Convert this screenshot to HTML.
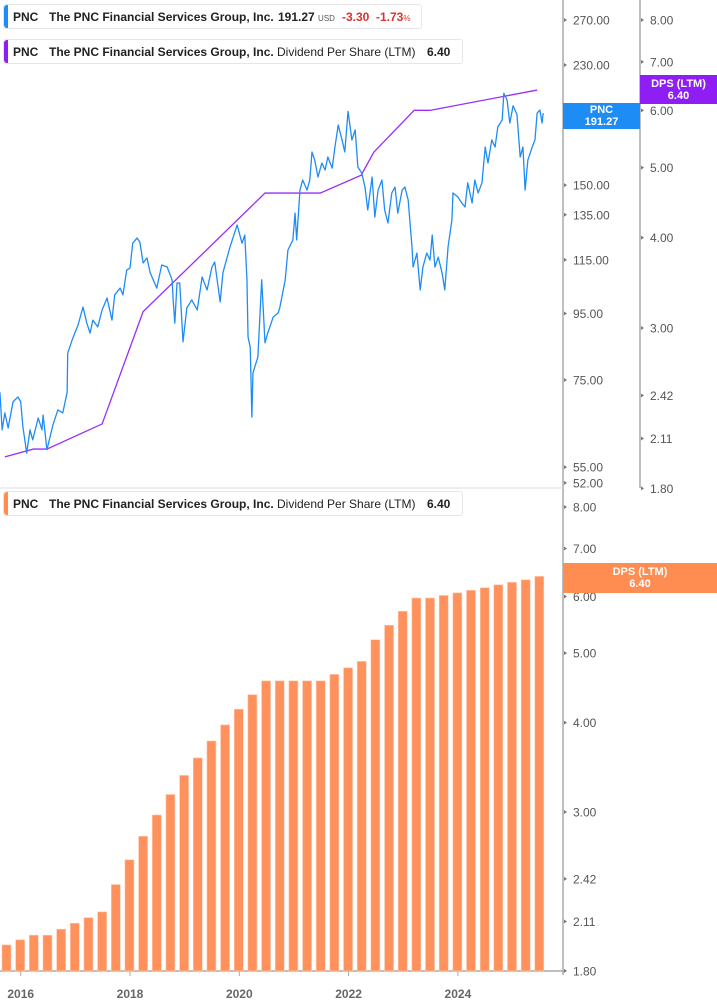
<!DOCTYPE html>
<html><head><meta charset="utf-8"><style>
body{margin:0;background:#fff;font-family:"Liberation Sans",sans-serif;}
#wrap{position:relative;width:717px;height:1005px;overflow:hidden;}
.legend{position:absolute;left:3px;height:25px;background:#fff;border:1px solid #e6e6e6;border-radius:3px;font-size:12px;color:#222;white-space:nowrap;line-height:25px;box-sizing:border-box;}
.legend .bar{position:absolute;left:0;top:0;width:4px;height:100%;border-radius:3px 0 0 3px;}
.legend span{position:absolute;top:0;}
b{font-weight:bold;}
.tag{position:absolute;color:#fff;font-weight:bold;font-size:11px;text-align:center;line-height:12px;}
</style></head><body>
<div id="wrap">
<svg id="svg" width="717" height="1005" style="position:absolute;left:0;top:0"></svg>

<div class="legend" style="top:4px;width:419px">
 <div class="bar" style="background:#1e8cf5"></div>
 <span style="left:9px"><b>PNC</b></span>
 <span style="left:45px"><b>The PNC Financial Services Group, Inc.</b></span>
 <span style="left:274px"><b>191.27</b> <span style="position:static;font-size:8px;color:#555">USD</span></span>
 <span style="left:338px;color:#d9322f"><b>-3.30</b></span>
 <span style="left:372px;color:#d9322f"><b>-1.73</b><span style="position:static;font-size:8px">%</span></span>
</div>
<div class="legend" style="top:39px;width:460px">
 <div class="bar" style="background:#8f1ef5"></div>
 <span style="left:9px"><b>PNC</b></span>
 <span style="left:45px"><b>The PNC Financial Services Group, Inc.</b></span>
 <span style="left:273px">Dividend Per Share (LTM)</span>
 <span style="left:423px"><b>6.40</b></span>
</div>
<div class="legend" style="top:491px;width:460px">
 <div class="bar" style="background:#ff8c50"></div>
 <span style="left:9px"><b>PNC</b></span>
 <span style="left:45px"><b>The PNC Financial Services Group, Inc.</b></span>
 <span style="left:273px">Dividend Per Share (LTM)</span>
 <span style="left:423px"><b>6.40</b></span>
</div>

<div class="tag" style="left:563px;top:103px;width:77px;height:25px;padding-top:1px;background:#1e8cf5">PNC<br>191.27</div>
<div class="tag" style="left:640px;top:75px;width:77px;height:29px;padding-top:3px;box-sizing:border-box;background:#8f1ef5">DPS (LTM)<br>6.40</div>
<div class="tag" style="left:563px;top:563px;width:154px;height:30px;padding-top:3px;box-sizing:border-box;background:#ff8c50">DPS (LTM)<br>6.40</div>
</div>
<script>
const priceDates=[2015.62,2015.66,2015.71,2015.77,2015.86,2015.95,2016.00,2016.04,2016.11,2016.17,2016.22,2016.32,2016.39,2016.41,2016.48,2016.59,2016.68,2016.77,2016.85,2016.86,2016.94,2016.99,2017.05,2017.14,2017.21,2017.27,2017.32,2017.41,2017.49,2017.58,2017.67,2017.72,2017.82,2017.87,2017.94,2018.00,2018.05,2018.13,2018.18,2018.24,2018.31,2018.37,2018.49,2018.58,2018.68,2018.77,2018.79,2018.82,2018.86,2018.91,2018.97,2019.04,2019.13,2019.23,2019.32,2019.41,2019.50,2019.55,2019.65,2019.70,2019.83,2019.96,2020.05,2020.10,2020.14,2020.16,2020.20,2020.23,2020.25,2020.34,2020.41,2020.47,2020.52,2020.62,2020.71,2020.74,2020.84,2020.89,2020.98,2021.02,2021.05,2021.11,2021.16,2021.24,2021.29,2021.33,2021.38,2021.44,2021.51,2021.57,2021.62,2021.70,2021.75,2021.81,2021.88,2021.93,2021.99,2022.06,2022.12,2022.17,2022.24,2022.30,2022.35,2022.43,2022.48,2022.54,2022.61,2022.66,2022.72,2022.79,2022.85,2022.90,2022.98,2023.03,2023.09,2023.16,2023.18,2023.25,2023.31,2023.36,2023.43,2023.49,2023.53,2023.58,2023.64,2023.71,2023.76,2023.82,2023.89,2023.91,2024.00,2024.07,2024.13,2024.18,2024.26,2024.31,2024.37,2024.44,2024.50,2024.55,2024.62,2024.68,2024.73,2024.81,2024.84,2024.90,2024.95,2025.01,2025.08,2025.14,2025.19,2025.23,2025.28,2025.36,2025.41,2025.45,2025.50,2025.54,2025.56];
const priceValues=[71.8,62.8,66.7,63.2,69.4,70.6,69.4,63.5,57.8,62.8,60.6,65.5,62.8,66.2,58.5,63.9,67.4,66.7,71.8,82.5,86.4,88.6,91.2,97.2,91.8,88.6,92.8,90.6,96.2,100.4,92.8,101.5,104.0,101.5,110.9,111.7,122.0,124.3,122.5,113.7,115.8,109.8,104.0,112.9,112.1,107.1,99.7,91.8,105.9,105.9,85.9,96.9,99.7,96.2,108.2,103.3,112.1,114.1,99.0,109.8,120.4,130.2,122.0,125.6,107.1,87.4,84.3,65.7,76.9,81.4,107.1,85.6,88.6,93.8,95.2,96.9,107.1,119.1,123.4,135.8,123.4,147.4,152.8,147.4,152.8,168.8,164.0,154.4,162.3,158.3,165.8,159.4,171.8,185.8,176.2,168.8,195.0,176.2,182.6,160.0,156.6,149.0,137.3,154.4,133.9,147.4,152.8,137.3,131.1,145.9,149.0,135.8,147.4,149.0,142.3,120.4,112.1,117.8,103.3,112.1,117.8,114.9,125.6,112.1,116.1,109.8,103.3,120.4,132.5,145.9,143.8,140.8,138.8,151.2,140.8,152.8,145.9,151.2,171.8,162.3,176.2,171.8,184.5,189.1,208.0,203.1,187.1,199.0,193.0,165.8,171.8,147.4,164.0,171.8,176.2,193.9,196.0,187.1,193.9];
const dpsLineDates=[2015.71,2016.23,2016.48,2017.49,2018.24,2020.47,2021.48,2022.23,2022.46,2023.20,2023.49,2025.45];
const dpsLineValues=[1.99,2.04,2.04,2.21,3.16,4.61,4.61,4.88,5.25,6.00,6.00,6.40];
const dpsBarValues=[1.957,1.989,2.019,2.019,2.058,2.098,2.136,2.176,2.376,2.573,2.775,2.972,3.174,3.375,3.57,3.77,3.97,4.175,4.375,4.574,4.574,4.574,4.574,4.574,4.67,4.77,4.87,5.22,5.47,5.72,5.97,5.97,6.02,6.07,6.12,6.17,6.23,6.28,6.33,6.40];
const barStart=2015.74;
const priceTicks=[270,230,150,135,115,95,75,55,52];
const dpsTicks=[8,7,6,5,4,3,2.42,2.11,1.80];
const yearTicks=[2016,2018,2020,2022,2024];

const NS="http://www.w3.org/2000/svg";
const svg=document.getElementById('svg');
function mk(t,a){const e=document.createElementNS(NS,t);for(const k in a)e.setAttribute(k,a[k]);svg.appendChild(e);return e;}
const X=d=>20.7+(d-2016)*54.65;
const YP=p=>20+(Math.log(270)-Math.log(p))*281;
const YD=v=>20+(Math.log(8)-Math.log(v))*314;
const YB=v=>507+(Math.log(8)-Math.log(v))*311;

let e;
e=mk('line',{x1:563,y1:0,x2:563,y2:975,stroke:'#aaa','stroke-width':1.5});

e=mk('line',{x1:640,y1:0,x2:640,y2:488,stroke:'#aaa','stroke-width':1.5});

e=mk('line',{x1:0,y1:488,x2:563,y2:488,stroke:'#ddd','stroke-width':1});

e=mk('line',{x1:0,y1:971,x2:566,y2:971,stroke:'#aaa','stroke-width':1.5});


function tick(x,y,label,name){
  const m=mk('path',{d:`M${x},${y-2}L${x+3},${y}L${x},${y+2}Z`,fill:'#777'});
  
  const t=mk('text',{x:x+9,y:y+4.5,'font-size':12,fill:'#555','font-family':'Liberation Sans, sans-serif'});
  t.textContent=label;
  
}
priceTicks.forEach(p=>tick(564,YP(p),p.toFixed(2),'price-tick-label'));
dpsTicks.forEach(v=>tick(641,YD(v),v.toFixed(2),'dps-tick-label'));
dpsTicks.forEach(v=>tick(564,YB(v),v.toFixed(2),'dps-bar-tick-label'));
yearTicks.forEach(yv=>{
  const x=X(yv);
  const l=mk('line',{x1:x,y1:971,x2:x,y2:976,stroke:'#aaa'});
  
  const t=mk('text',{x:x,y:998,'font-size':12,'font-weight':'bold',fill:'#666','text-anchor':'middle','font-family':'Liberation Sans, sans-serif'});
  t.textContent=yv;
  
});

dpsBarValues.forEach((v,i)=>{
  const x=X(barStart+i*0.25);
  const y=YB(v);
  const r=mk('rect',{x:x-4.5,y:y,width:9,height:971-y,fill:'#ff915c',stroke:'#ffc8ad','stroke-width':0.6});
  
});

e=mk('polyline',{points:dpsLineDates.map((d,i)=>X(d)+','+YD(dpsLineValues[i])).join(' '),fill:'none',stroke:'#9a2ef5','stroke-width':1.3});


e=mk('polyline',{points:priceDates.map((d,i)=>X(d)+','+YP(priceValues[i])).join(' '),fill:'none',stroke:'#1e8cf5','stroke-width':1.3,'stroke-linejoin':'round'});

</script>
</body></html>
